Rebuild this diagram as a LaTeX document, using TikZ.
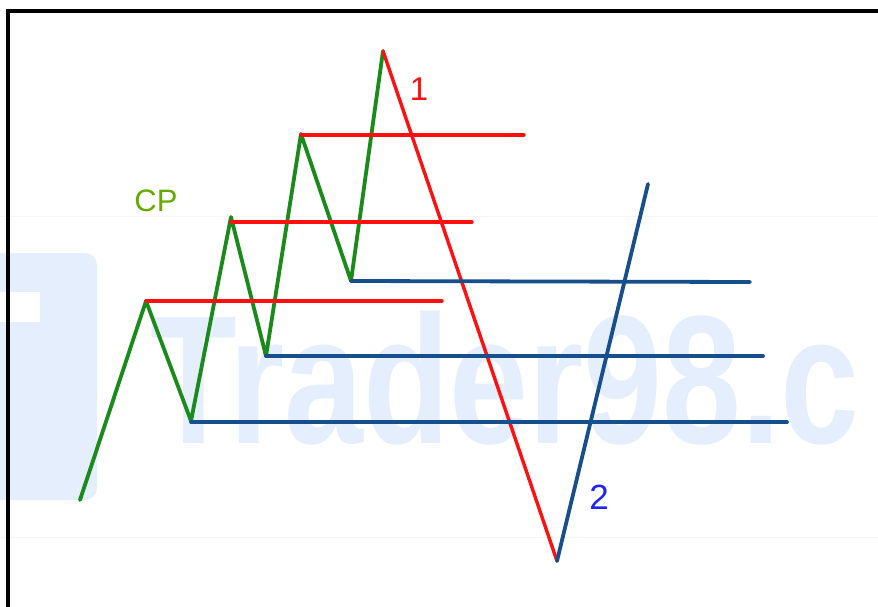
\documentclass[tikz,border=0pt]{standalone}
\usepackage{fontspec}
\setmainfont{Liberation Sans}
\definecolor{wavegreen}{HTML}{1A8A1A}
\definecolor{wavered}{HTML}{FF1010}
\definecolor{waveblue}{HTML}{174E8C}
\definecolor{cpgreen}{HTML}{66AA00}
\definecolor{twoblue}{HTML}{2222FF}
\definecolor{wmblue}{HTML}{E4EEFC}
\tikzset{
  greenline/.style={draw=wavegreen,line width=3.8pt,line cap=round,line join=round},
  redline/.style={draw=wavered,line width=3.4pt,line cap=round,line join=round},
  blueline/.style={draw=waveblue,line width=3.8pt,line cap=round,line join=round},
  lbl/.style={inner sep=0pt,font=\fontsize{#1}{#1}\selectfont}
}
\begin{document}
\begin{tikzpicture}[x=1pt,y=-1pt]
\useasboundingbox (0,0) rectangle (878,607);
\begin{scope}
\clip (0,0) rectangle (878,607);
% faint grid lines
\draw[gray!7,line width=0.8pt] (0,216) -- (878,216);
\draw[gray!7,line width=0.8pt] (0,537) -- (878,537);
% watermark
\fill[wmblue,rounded corners=12pt] (-20,253) rectangle (97,500);
\fill[white] (-5,292) rectangle (40,322);
\node[anchor=base west,inner sep=0pt,text=wmblue] (wm) at (150,443)
  {\scalebox{0.775}[1]{\fontsize{183}{183}\selectfont\bfseries Trader98.c}};
\end{scope}
% border
\draw[black,line width=3.6pt] (8,607) -- (8,11) -- (878,11);
% wave vertices
\coordinate (g0) at (80,500);
\coordinate (g1) at (146,301);
\coordinate (g2) at (191,421);
\coordinate (g3) at (231,217);
\coordinate (g4) at (266,356);
\coordinate (g5) at (301,134);
\coordinate (g6) at (351,281);
\coordinate (g7) at (383,51);
\coordinate (r1) at (557,561);
\coordinate (b1) at (648,184);
% horizontal line ends
\coordinate (h1) at (442,301);
\coordinate (h3) at (472,222);
\coordinate (h5) at (524,135);
\coordinate (h6) at (750,282);
\coordinate (h4) at (763,356);
\coordinate (h2) at (787,422);
% green zigzag
\draw[greenline] (g0) -- (g1) -- (g2) -- (g3) -- (g4) -- (g5) -- (g6) -- (g7);
% diagonals
\draw[redline] (g7) -- (r1);
\draw[blueline] (r1) -- (b1);
% red horizontals
\draw[redline] (g1) -- (h1);
\draw[redline] (g3 |- h3) -- (h3);
\draw[redline] (g5 |- h5) -- (h5);
% blue horizontals
\draw[blueline] (g6) -- (h6);
\draw[blueline] (g4) -- (h4);
\draw[blueline] (g2 |- h2) -- (h2);
% labels
\node[lbl=31,text=cpgreen] (cp) at (156,201) {CP};
\node[lbl=33,text=wavered] (one) at (419,89) {1};
\node[lbl=35,text=twoblue] (two) at (599,497) {2};
\end{tikzpicture}
\end{document}
